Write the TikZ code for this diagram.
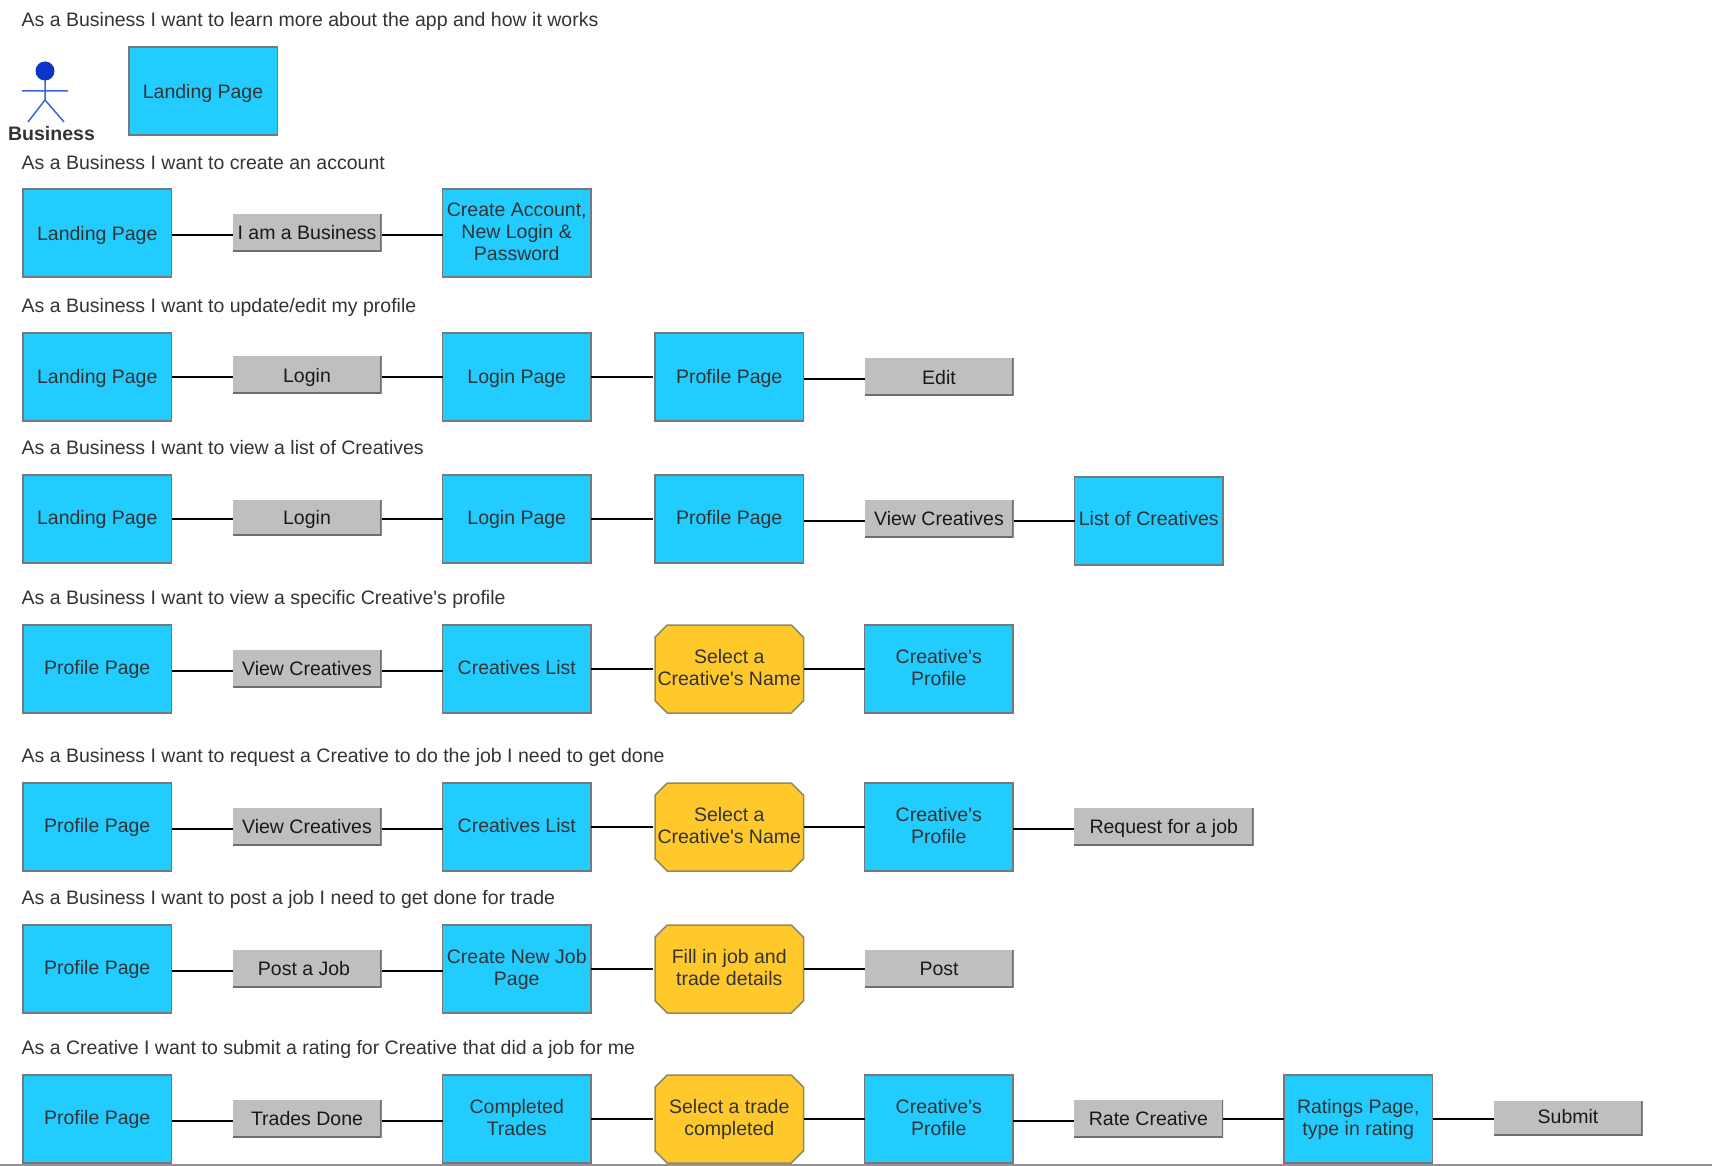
\documentclass[tikz,border=0pt]{standalone}
\usepackage{fontspec}
\setmainfont{Liberation Sans}
\usetikzlibrary{positioning}
\definecolor{pageblue}{HTML}{22CCFF}
\definecolor{choicegold}{HTML}{FFC92B}
\definecolor{actgrey}{HTML}{BFBFBF}
\definecolor{actedge}{HTML}{6E6E6E}
\definecolor{edgegrey}{HTML}{787878}
\definecolor{inkgrey}{HTML}{333333}
\definecolor{headblue}{HTML}{0A35C8}
\definecolor{armblue}{HTML}{3E63DC}
\tikzset{
  drop/.store in=\boxdrop,drop=2.7pt,
  boxtext/.style={font=\fontsize{19.5}{22}\selectfont,align=center,outer sep=0pt,inner sep=0pt,
    execute at begin node=\rule{0pt}{\dimexpr15.4pt+\boxdrop},
    execute at end node=\rule[\dimexpr\boxdrop-6.6pt]{0pt}{\dimexpr6.6pt-\boxdrop}},
  pagebox/.style={boxtext,rectangle,draw=edgegrey,line width=1.5pt,fill=pageblue,
    text=inkgrey,minimum width=148.5pt,minimum height=88pt,drop=3.7pt},
  choicebox/.style={boxtext,rectangle,outer sep=-.75pt,text=inkgrey,minimum width=150pt,
    minimum height=89.5pt,path picture={\draw[draw=edgegrey!80!choicegold,line width=1.5pt,fill=choicegold]
      (path picture bounding box.north west) ++(13pt,-.75pt) -- ++(124pt,0pt) -- ++(12.25pt,-12.25pt)
      -- ++(0pt,-63.5pt) -- ++(-12.25pt,-12.25pt) -- ++(-124pt,0pt) -- ++(-12.25pt,12.25pt)
      -- ++(0pt,63.5pt) -- cycle;}},
  actbox/.style={boxtext,rectangle,fill=actgrey,text=black!90,minimum width=149pt,
    minimum height=37.5pt,drop=2.2pt,path picture={\draw[actedge,line width=3pt]
      (path picture bounding box.south west) -- (path picture bounding box.south east)
      -- (path picture bounding box.north east);}},
  titletext/.style={font=\fontsize{19.5}{22}\selectfont,text=inkgrey,inner sep=0pt,anchor=base west},
  link/.style={line width=1.6pt,to path={([yshift=#1]\tikztostart.east)
      -- ([yshift=#1]\tikztostart.east -| \tikztotarget.west)}},
  link/.default=0pt
}
\begin{document}
\begin{tikzpicture}[x=1pt,y=-1pt,node distance=61pt]
\useasboundingbox (0,0) rectangle (1712,1166);
\coordinate (ruleleft) at (0,1165);
\coordinate (ruleright) at (1712,1165);
\draw[edgegrey!80,line width=1.5pt] (ruleleft) -- (ruleright);

\node[titletext] (title0) at (21.5,26.5) {As a Business I want to learn more about the app and how it works};
\fill[headblue] (45,71) circle (9.5);
\draw[armblue,line width=1.5pt] (45,80) -- (45,100) -- (28,122) (45,100) -- (64,122) (22,91) -- (68,91);
\node[font=\fontsize{19.5}{22}\selectfont\bfseries,text=inkgrey,inner sep=0pt] (actor) at (51.5,133.5) {Business};
\node[pagebox,drop=3.3pt] (land0) at (203,91) {Landing Page};

\node[titletext] (title1) at (21.5,170) {As a Business I want to create an account};
\node[pagebox,drop=3.3pt] (land1) at (97.25,233) {Landing Page};
\node[actbox] (iam1) [right=of land1] {I am a Business};
\node[pagebox,drop=4.9pt] (create1) [right=of iam1] {Create Account,\\New Login \&\\Password};
\path (land1) edge[link=-2pt] (iam1);
\path (iam1) edge[link=-2pt] (create1);

\node[titletext] (title2) at (21.5,312) {As a Business I want to update/edit my profile};
\node[pagebox,drop=1.6pt] (land2) at (97.25,377) {Landing Page};
\node[actbox,drop=2.7pt] (login2) [right=of land2,yshift=2pt] {Login};
\node[pagebox,drop=1.6pt] (page2) [right=of login2,yshift=-2pt] {Login Page};
\node[pagebox,drop=1.6pt] (prof2) [right=64pt of page2] {Profile Page};
\node[actbox,drop=2.7pt] (edit2) [right=of prof2] {Edit};
\path (land2) edge[link] (login2);
\path (login2) edge[link=-2pt] (page2);
\path (page2) edge[link,shorten >=2pt] (prof2);
\path (prof2) edge[link=-2pt] (edit2);

\node[titletext] (title3) at (21.5,454) {As a Business I want to view a list of Creatives};
\node[pagebox,drop=1.1pt] (land3) at (97.25,519) {Landing Page};
\node[actbox,minimum height=35.5pt,drop=1.6pt] (login3) [right=of land3,yshift=1pt] {Login};
\node[pagebox,drop=1.1pt] (page3) [right=of login3,yshift=-1pt] {Login Page};
\node[pagebox,drop=1.1pt] (prof3) [right=64pt of page3] {Profile Page};
\node[actbox] (view3) [right=of prof3] {View Creatives};
\node[pagebox,drop=0pt] (list3) [right=of view3,yshift=-2pt] {List of Creatives};
\path (land3) edge[link] (login3);
\path (login3) edge[link=-1pt] (page3);
\path (page3) edge[link,shorten >=2pt] (prof3);
\path (prof3) edge[link=-2pt] (view3);
\path (view3) edge[link=-2pt] (list3);

\node[titletext] (title4) at (21.5,604) {As a Business I want to view a specific Creative\textquotesingle s profile};
\node[pagebox,drop=1.1pt] (prof4) at (97.25,669) {Profile Page};
\node[actbox] (view4) [right=of prof4] {View Creatives};
\node[pagebox,drop=1.1pt] (list4) [right=of view4] {Creatives List};
\node[choicebox,drop=3.2pt] (pick4) [right=64pt of list4] {Select a\\Creative\textquotesingle s Name};
\node[pagebox] (creat4) [right=of pick4] {Creative\textquotesingle s\\Profile};
\path (prof4) edge[link=-2pt] (view4);
\path (view4) edge[link=-2pt] (list4);
\path (list4) edge[link,shorten >=2pt] (pick4);
\path (pick4) edge[link] (creat4);

\node[titletext] (title5) at (21.5,762) {As a Business I want to request a Creative to do the job I need to get done};
\node[pagebox,drop=1.1pt] (prof5) at (97.25,827) {Profile Page};
\node[actbox,drop=1.7pt] (view5) [right=of prof5] {View Creatives};
\node[pagebox,drop=1.1pt] (list5) [right=of view5] {Creatives List};
\node[choicebox,drop=3.2pt] (pick5) [right=64pt of list5] {Select a\\Creative\textquotesingle s Name};
\node[pagebox] (creat5) [right=of pick5] {Creative\textquotesingle s\\Profile};
\node[actbox,minimum width=179.5pt] (ask5) [right=of creat5] {Request for a job};
\path (prof5) edge[link=-2pt] (view5);
\path (view5) edge[link=-2pt] (list5);
\path (list5) edge[link,shorten >=2pt] (pick5);
\path (pick5) edge[link] (creat5);
\path (creat5) edge[link=-2pt] (ask5);

\node[titletext] (title6) at (21.5,904) {As a Business I want to post a job I need to get done for trade};
\node[pagebox,drop=1.1pt] (prof6) at (97.25,969) {Profile Page};
\node[actbox,drop=1.7pt] (job6) [right=of prof6] {Post a Job\hspace{6pt}};
\node[pagebox] (new6) [right=of job6] {Create New Job\\Page};
\node[choicebox] (fill6) [right=64pt of new6] {Fill in job and\\trade details};
\node[actbox] (post6) [right=of fill6] {Post};
\path (prof6) edge[link=-2pt] (job6);
\path (job6) edge[link=-2pt] (new6);
\path (new6) edge[link,shorten >=2pt] (fill6);
\path (fill6) edge[link] (post6);

\node[titletext] (title7) at (21.5,1054) {As a Creative I want to submit a rating for Creative that did a job for me};
\node[pagebox,drop=1.1pt] (prof7) at (97.25,1119) {Profile Page};
\node[actbox] (done7) [right=of prof7] {Trades Done};
\node[pagebox] (comp7) [right=of done7] {Completed\\Trades};
\node[choicebox,drop=3.7pt] (pick7) [right=64pt of comp7] {Select a trade\\completed};
\node[pagebox] (creat7) [right=of pick7] {Creative\textquotesingle s\\Profile};
\node[actbox] (rate7) [right=of creat7] {Rate Creative};
\node[pagebox] (score7) [right=of rate7] {Ratings Page,\\type in rating};
\node[actbox,minimum height=35pt,drop=1.2pt] (send7) [right=of score7,yshift=1pt] {Submit};
\path (prof7) edge[link=-2pt] (done7);
\path (done7) edge[link=-2pt] (comp7);
\path (comp7) edge[link,shorten >=2pt] (pick7);
\path (pick7) edge[link] (creat7);
\path (creat7) edge[link=-2pt] (rate7);
\path (rate7) edge[link] (score7);
\path (score7) edge[link] (send7);
\end{tikzpicture}
\end{document}
